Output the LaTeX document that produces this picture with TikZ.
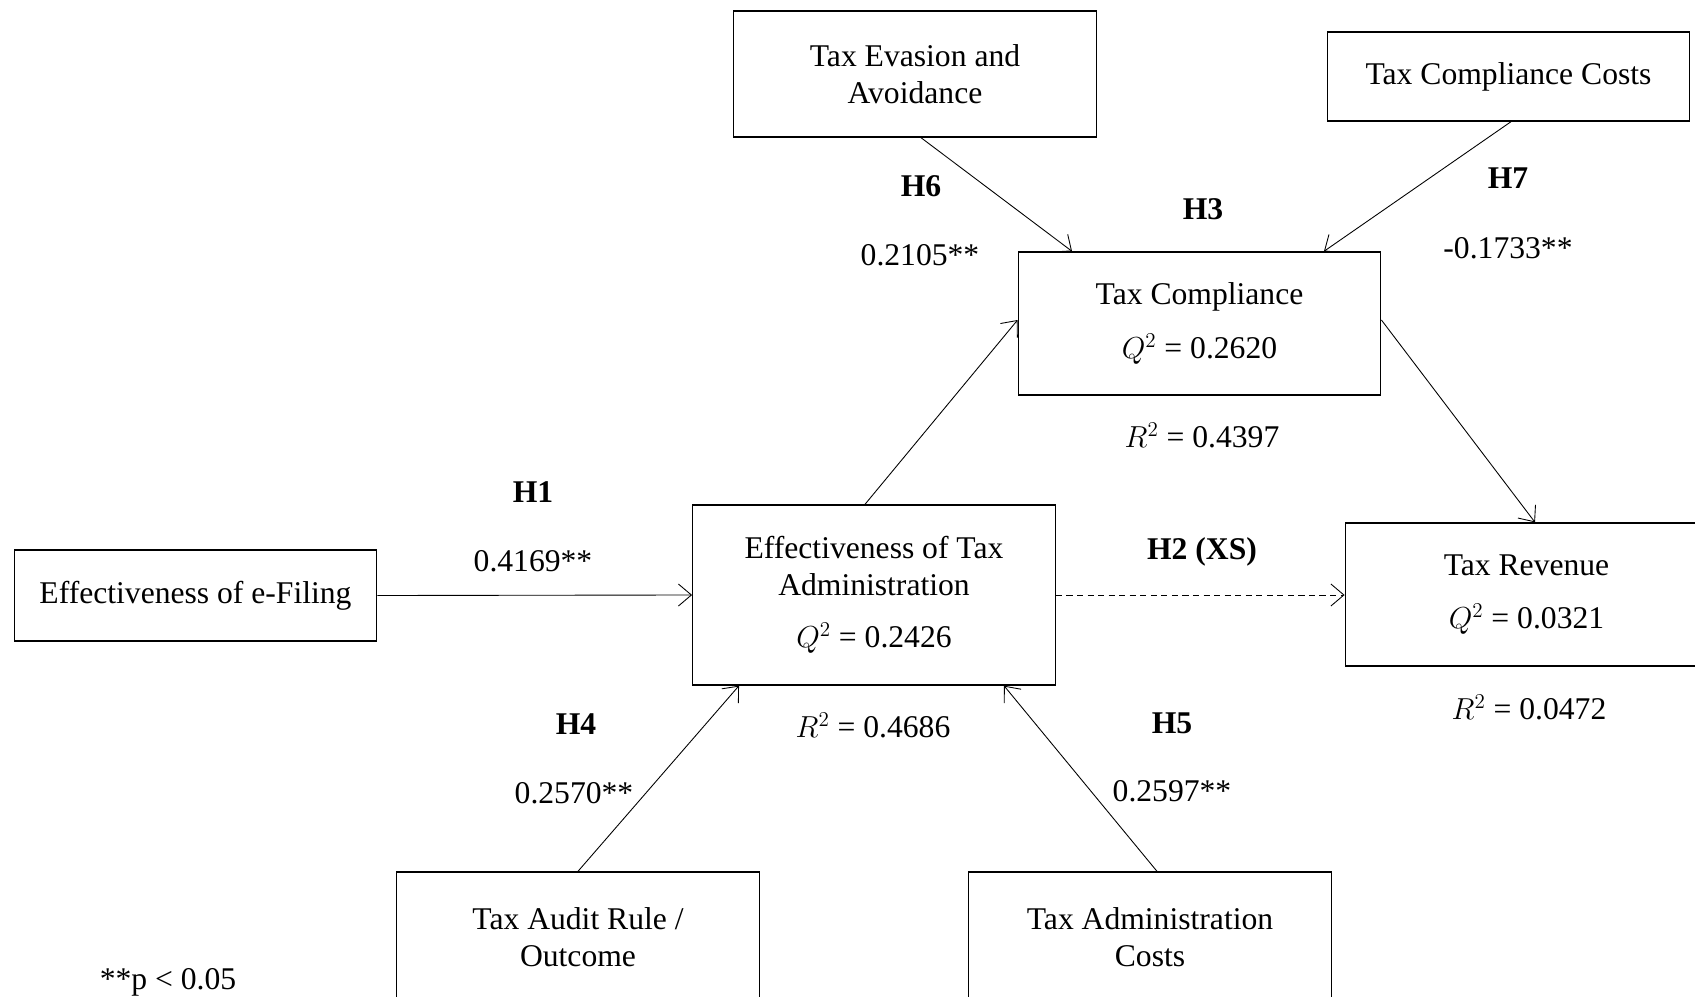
\documentclass[tikz,border=0pt]{standalone}
\usepackage{fontspec}
\setmainfont{Liberation Serif}
\usetikzlibrary{arrows.meta,positioning,calc}

\begin{document}
\begin{tikzpicture}[x=0.02cm,y=-0.02cm,
  taxbox/.style={draw,line width=0.8pt,minimum width=7.25cm,align=center,
    font=\fontsize{18}{21}\selectfont,inner sep=4pt},
  taxtag/.style={font=\fontsize{18}{21}\selectfont\bfseries,inner sep=1pt},
  taxval/.style={font=\fontsize{18}{21}\selectfont,inner sep=1pt},
  taxlink/.style={line width=0.5pt,-{Straight Barb[length=2.6mm,width=4.4mm]}}
]
  \useasboundingbox (0,0) rectangle (1695,997);
  % boxes
  \node[taxbox,minimum height=1.82cm] (efiling) at (195.5,595.5) {Effectiveness of e-Filing};
  \node[taxbox,minimum height=3.6cm] (admin) at (874,595) {
    Effectiveness of Tax\\Administration\\[9pt]$Q^{2}$ = 0.2426};
  \node[taxbox,minimum height=2.52cm] (evasion) at (915,74) {Tax Evasion and\\Avoidance};
  \node[taxbox,minimum height=1.78cm] (costs) at (1508.5,76.5) {Tax Compliance Costs};
  \node[taxbox,minimum height=2.86cm] (comp) at (1199.5,323.5) {
    Tax Compliance\\[10pt]$Q^{2}$ = 0.2620};
  \node[taxbox,minimum height=2.86cm] (revenue) at (1526.5,594.5) {
    Tax Revenue\\[9pt]$Q^{2}$ = 0.0321};
  \node[taxbox,minimum height=2.6cm] (audit) at (578,937) {Tax Audit Rule /\\Outcome};
  \node[taxbox,minimum height=2.6cm] (admcost) at (1150,937) {Tax Administration\\Costs};
  % paths
  \draw[taxlink] (efiling.east) -- (admin.west);
  \draw[taxlink,dash pattern=on 3.5pt off 2.5pt] (admin.east) -- (admin.east -| revenue.west);
  \draw[taxlink] ([xshift=-0.18cm]admin.north) -- ([yshift=0.07cm]comp.west);
  \draw[taxlink] ([xshift=0.12cm]evasion.south) -- ([xshift=-2.55cm]comp.north);
  \draw[taxlink] ([xshift=0.05cm]costs.south) -- ([xshift=2.49cm]comp.north);
  \draw[taxlink] ([yshift=0.07cm]comp.east) -- ([xshift=0.17cm]revenue.north);
  \draw[taxlink] (audit.north) -- ([xshift=-2.7cm]admin.south);
  \draw[taxlink] ([xshift=0.14cm]admcost.north) -- ([xshift=2.6cm]admin.south);
  % hypothesis labels
  \node[taxtag] (h1) at (533,492) {H1};
  \node[taxval] (v1) at (533,561) {0.4169**};
  \node[taxtag] (h2) at (1202,552) {H2 (XS)};
  \node[taxtag] (h3) at (1203,209) {H3};
  \node[taxtag] (h4) at (576,724) {H4};
  \node[taxval] (v4) at (574,793) {0.2570**};
  \node[taxtag] (h5) at (1172,723) {H5};
  \node[taxval] (v5) at (1172,791) {0.2597**};
  \node[taxtag] (h6) at (921,186) {H6};
  \node[taxval] (v6) at (920,255) {0.2105**};
  \node[taxtag] (h7) at (1508,178) {H7};
  \node[taxval] (v7) at (1508,248) {-0.1733**};
  % R squared
  \node[taxval] (r1) at (1202,435) {$R^{2}$ = 0.4397};
  \node[taxval] (r2) at (873,725) {$R^{2}$ = 0.4686};
  \node[taxval] (r3) at (1529,707) {$R^{2}$ = 0.0472};
  \node[taxval] (note) at (168,982) {**p < 0.05};
\end{tikzpicture}
\end{document}
